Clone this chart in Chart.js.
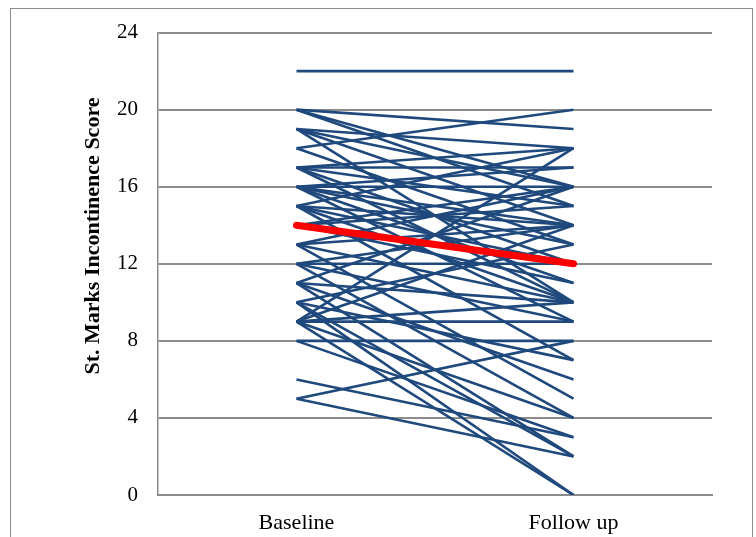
<!DOCTYPE html>
<html>
<head>
<meta charset="utf-8">
<script src="https://cdn.jsdelivr.net/npm/chart.js@4.4.1/dist/chart.umd.min.js"></script>
<style>
  body { margin: 0; background: #fff; }
  #wrap { position: relative; width: 756px; height: 537px; overflow: hidden; }
  #frame { position: absolute; left: 10px; top: 8px; width: 741px; height: 540px; border: 1px solid #8c8c8c; }
  canvas { position: absolute; left: 0; top: 0; }
</style>
</head>
<body>
<div id="wrap">
  <div id="frame"></div>
  <canvas id="grafica" width="756" height="537"></canvas>
</div>
<script>
const categories = ['Baseline', 'Follow up'];
const yTicks = [0, 4, 8, 12, 16, 20, 24];
const axisTitle = 'St. Marks Incontinence Score';

// one entry per patient: score at baseline and at follow up
const baseline = [22, 20, 20, 20, 19, 19, 19, 19, 18, 18, 17, 17, 17, 17, 17,
                  16, 16, 16, 16, 16, 16, 15, 15, 15, 15, 15, 14, 14, 14,
                  13, 13, 13, 13, 12, 12, 12, 12, 11, 11, 11, 11,
                  10, 10, 10, 10, 9, 9, 9, 9, 9, 9, 8, 8, 6, 5, 5];
const followUp = [22, 19, 16, 15, 18, 16, 14, 10, 20, 13, 17, 15, 12, 10, 18,
                  17, 16, 14, 11, 13, 9, 18, 14, 10, 12, 7, 16, 15, 11,
                  16, 14, 10, 5, 12, 9, 14, 4, 16, 10, 6, 2,
                  13, 7, 2, 0, 18, 14, 10, 9, 4, 0, 8, 3, 3, 8, 2];
const meanScore = [14, 12];

const datasets = [{
    data: meanScore,
    borderColor: '#ff0000',
    borderWidth: 7,
    borderCapStyle: 'round',
    pointRadius: 0,
    order: 0
}];
for (let i = 0; i < baseline.length; i++) {
    datasets.push({
        data: [baseline[i], followUp[i]],
        borderColor: '#1f497d',
        borderWidth: 2.6,
        pointRadius: 0,
        order: 1
    });
}

const titlePlugin = {
    id: 'titlePlugin',
    afterDraw(chart) {
        const c = chart.ctx;
        c.save();
        c.translate(93, 236);
        c.rotate(-Math.PI / 2);
        c.font = 'bold 22px "Liberation Serif"';
        c.fillStyle = '#000';
        c.textAlign = 'center';
        c.textBaseline = 'middle';
        c.fillText(axisTitle, 0, 0);
        c.restore();
    }
};

const ctx = document.getElementById('grafica').getContext('2d');
new Chart(ctx, {
    type: 'line',
    data: { labels: categories, datasets: datasets },
    plugins: [titlePlugin],
    options: {
        responsive: false,
        animation: false,
        layout: { padding: { top: 32, right: 44, left: 0, bottom: 0 } },
        plugins: { legend: { display: false }, tooltip: { enabled: false } },
        scales: {
            x: {
                offset: true,
                grid: { display: false, drawTicks: false },
                border: { color: '#8c8c8c', width: 2 },
                ticks: { color: '#000', padding: 15, font: { family: 'Liberation Serif', size: 22 } },
                afterFit(scale) { scale.height = 42; }
            },
            y: {
                min: 0,
                max: 24,
                afterBuildTicks(scale) { scale.ticks = yTicks.map(v => ({ value: v })); },
                grid: { color: '#8c8c8c', lineWidth: 2, drawTicks: false },
                border: { color: '#8c8c8c', width: 1.5 },
                ticks: { color: '#000', padding: 20, font: { family: 'Liberation Serif', size: 21 } },
                afterFit(scale) { scale.width = 158; }
            }
        }
    }
});
</script>
</body>
</html>
